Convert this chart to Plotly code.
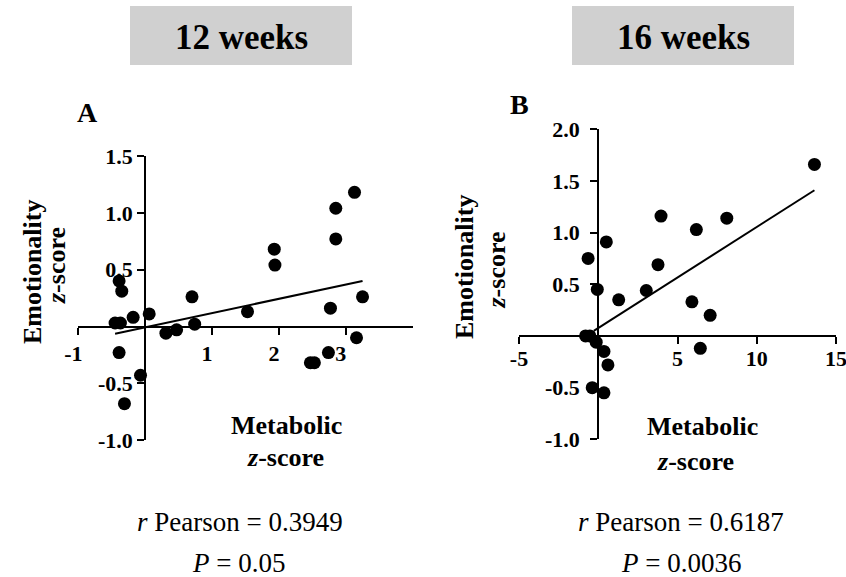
import plotly.graph_objects as go

# ---- data ----
a_x = [-0.45, -0.37, -0.39, -0.35, -0.18, 0.06, -0.39, -0.07, -0.31, 0.31, 0.47, 0.70, 0.74,
       1.53, 1.93, 1.94, 2.47, 2.53, 2.74, 2.77, 2.85, 2.85, 3.13, 3.16, 3.25]
a_y = [0.03, 0.03, 0.40, 0.31, 0.08, 0.11, -0.23, -0.43, -0.68, -0.06, -0.03, 0.26, 0.02,
       0.13, 0.68, 0.54, -0.32, -0.32, -0.23, 0.16, 1.04, 0.77, 1.18, -0.10, 0.26]
a_fit_x = [-0.45, 3.25]
a_fit_y = [-0.065, 0.40]

b_x = [-0.80, -0.53, -0.13, 0.36, 0.61, -0.38, 0.36, -0.64, -0.06, 0.51, 1.29, 3.03, 3.77,
       3.96, 6.19, 5.91, 7.06, 6.44, 8.11, 13.64]
b_y = [0.00, 0.00, -0.06, -0.15, -0.28, -0.50, -0.55, 0.75, 0.45, 0.91, 0.35, 0.44, 0.69,
       1.16, 1.03, 0.33, 0.20, -0.12, 1.14, 1.66]
b_fit_x = [-0.28, 13.64]
b_fit_y = [0.05, 1.41]

a_xticks = [-1, 1, 2, 3]
a_xtext = ["-1", "1", "2", "3"]
a_yticks = [-1.0, -0.5, 0.5, 1.0, 1.5]
a_ytext = ["-1.0", "-0.5", "0.5", "1.0", "1.5"]
b_xticks = [-5, 5, 10, 15]
b_xtext = ["-5", "5", "10", "15"]
b_yticks = [-1.0, -0.5, 0.5, 1.0, 1.5, 2.0]
b_ytext = ["-1.0", "-0.5", "0.5", "1.0", "1.5", "2.0"]

titles = ["12 weeks", "16 weeks"]
panel_letters = ["A", "B"]
stats_r = ["0.3949", "0.6187"]
stats_p = ["0.05", "0.0036"]

W, H = 846, 577
SERIF = "Liberation Serif"


def px(x):
    return x / W


def py(y):
    return 1 - y / H


fig = go.Figure()

fig.add_trace(go.Scatter(x=a_x, y=a_y, mode="markers", xaxis="x", yaxis="y",
                         marker=dict(color="black", size=13), showlegend=False))
fig.add_trace(go.Scatter(x=a_fit_x, y=a_fit_y, mode="lines", xaxis="x", yaxis="y",
                         line=dict(color="black", width=2), showlegend=False))
fig.add_trace(go.Scatter(x=b_x, y=b_y, mode="markers", xaxis="x2", yaxis="y2",
                         marker=dict(color="black", size=13), showlegend=False))
fig.add_trace(go.Scatter(x=b_fit_x, y=b_fit_y, mode="lines", xaxis="x2", yaxis="y2",
                         line=dict(color="black", width=2), showlegend=False))

tickfont = dict(family=SERIF, size=22, color="black", weight="bold")
common = dict(showgrid=False, zeroline=False, showline=True, linecolor="black", linewidth=2,
              ticks="outside", ticklen=7, tickwidth=2, tickcolor="black", tickfont=tickfont,
              tickmode="array", automargin=False, ticklabeloverflow="allow")

fig.update_layout(
    template="none",
    width=W, height=H, margin=dict(l=0, r=0, t=0, b=0, pad=0, autoexpand=False),
    paper_bgcolor="white", plot_bgcolor="rgba(0,0,0,0)",
    xaxis=dict(common, domain=[px(78.3), px(412.7)], range=[-1, 4], anchor="free",
               position=py(326.5), tickvals=a_xticks, ticktext=a_xtext,
               ticklabelstandoff=0, ticklabelshift=-5),
    yaxis=dict(common, domain=[py(440), py(156)], range=[-1, 1.5], anchor="free",
               position=px(145.2), tickvals=a_yticks, ticktext=a_ytext,
               ticklabelstandoff=0),
    xaxis2=dict(common, domain=[px(519), px(836)], range=[-5, 15], anchor="free",
                position=py(336), tickvals=b_xticks, ticktext=b_xtext,
                ticklabelstandoff=-4),
    yaxis2=dict(common, domain=[py(439.3), py(129.3)], range=[-1, 2], anchor="free",
                position=px(598.2), tickvals=b_yticks, ticktext=b_ytext,
                ticklabelstandoff=6),
)

# title boxes
for (x0, x1), t in zip([(130, 352), (572, 794)], titles):
    fig.add_shape(type="rect", xref="paper", yref="paper", x0=px(x0), x1=px(x1),
                  y0=py(65), y1=py(6), fillcolor="#d0d0d0", line=dict(width=0), layer="below")
    fig.add_annotation(xref="paper", yref="paper", x=px((x0 + x1) / 2), y=py(37), text=t,
                       showarrow=False, xanchor="center", yanchor="middle",
                       font=dict(family=SERIF, size=35, color="black", weight="bold"))

bold26 = dict(family=SERIF, size=26, color="black", weight="bold")

# panel letters
for (x, y), L in zip([(87, 112), (519, 104)], panel_letters):
    fig.add_annotation(xref="paper", yref="paper", x=px(x), y=py(y), text=L, showarrow=False,
                       xanchor="center", yanchor="middle",
                       font=dict(family=SERIF, size=28, color="black", weight="bold"))

# y axis titles (rotated)
for (ex, ey, zx, zy) in [(32, 272, 56, 266), (464, 267, 495.5, 270)]:
    fig.add_annotation(xref="paper", yref="paper", x=px(ex), y=py(ey), text="Emotionality",
                       textangle=-90, showarrow=False, xanchor="center", yanchor="middle",
                       font=bold26)
    fig.add_annotation(xref="paper", yref="paper", x=px(zx), y=py(zy), text="<i>z</i>-score",
                       textangle=-90, showarrow=False, xanchor="center", yanchor="middle",
                       font=bold26)

# x axis titles
for (mx, my, zx, zy) in [(286, 425, 285.5, 457), (702.5, 426, 695, 461)]:
    fig.add_annotation(xref="paper", yref="paper", x=px(mx), y=py(my), text="Metabolic",
                       showarrow=False, xanchor="center", yanchor="middle", font=bold26)
    fig.add_annotation(xref="paper", yref="paper", x=px(zx), y=py(zy), text="<i>z</i>-score",
                       showarrow=False, xanchor="center", yanchor="middle", font=bold26)

# statistics text
reg27 = dict(family=SERIF, size=27, color="black")
for cx, r, p in zip([240, 681], stats_r, stats_p):
    fig.add_annotation(xref="paper", yref="paper", x=px(cx), y=py(522),
                       text="<i>r</i> Pearson = " + r, showarrow=False,
                       xanchor="center", yanchor="middle", font=reg27)
    fig.add_annotation(xref="paper", yref="paper", x=px(cx - 2 if cx < 400 else cx), y=py(563),
                       text="<i>P</i> = " + p, showarrow=False,
                       xanchor="center", yanchor="middle", font=reg27)

fig.write_html("out.html", config={"displayModeBar": False},
               post_script="document.body.style.margin='0px';")
